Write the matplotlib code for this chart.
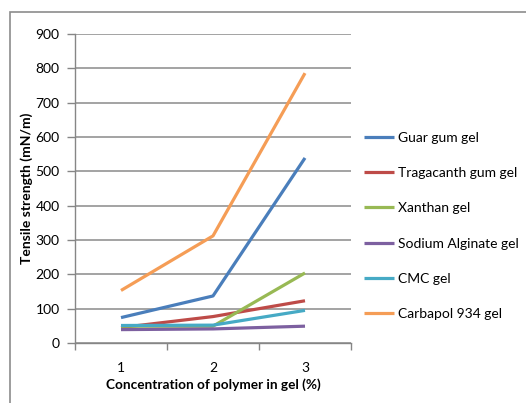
import matplotlib
matplotlib.use("Agg")
import matplotlib.pyplot as plt
from matplotlib.patches import Rectangle

# Tensile strength data
concentration = ["1", "2", "3"]
guar_gum = [74, 137, 539]
tragacanth_gum = [45, 77, 123]
xanthan = [49, 49, 204]
sodium_alginate = [39, 41, 49]
cmc = [51, 52, 95]
carbapol_934 = [153, 312, 786]

series_names = ["Guar gum gel", "Tragacanth gum gel", "Xanthan gel",
                "Sodium Alginate gel", "CMC gel", "Carbapol 934 gel"]
series_values = [guar_gum, tragacanth_gum, xanthan, sodium_alginate, cmc, carbapol_934]
colors = ["#4A7EBB", "#BE4B48", "#98B954", "#7D60A0", "#46AAC5", "#F59D56"]

plt.rcParams["font.family"] = ["Lato", "DejaVu Sans"]

fig = plt.figure(figsize=(5.26, 4.03), dpi=100)
ax = fig.add_axes([75 / 526, 1 - 343 / 403, 276 / 526, 309 / 403])

# outer frame (only top and left edges fall inside the image)
fig.patches.append(Rectangle((10 / 526, -0.1), 1.2, 1.1 - 12 / 403,
                             transform=fig.transFigure, fill=False,
                             edgecolor="#8C8C8C", linewidth=1.2))

x = list(range(len(concentration)))
for name, vals, c in zip(series_names, series_values, colors):
    ax.plot(x, vals, color=c, linewidth=2.3, label=name, solid_capstyle="butt")

ax.set_xlim(-0.5, 2.5)
ax.set_ylim(0, 900)
ax.set_yticks(range(0, 901, 100))
ax.set_xticks(x)
ax.set_xticklabels(concentration)
ax.set_xticks([-0.5, 0.5, 1.5, 2.5], minor=True)
ax.tick_params(axis="x", which="major", length=0, pad=14, labelsize=10)
ax.tick_params(axis="x", which="minor", length=5, color="#868686", width=1)
ax.tick_params(axis="y", length=6, color="#868686", width=1, labelsize=10, pad=5)
ax.grid(axis="y", color="#8A8A8A", linewidth=1.1)
ax.set_axisbelow(True)

for side in ["top", "right"]:
    ax.spines[side].set_visible(False)
for side in ["left", "bottom"]:
    ax.spines[side].set_color("#868686")
    ax.spines[side].set_linewidth(1)

ax.set_ylabel("Tensile strength (mN/m)", fontweight="bold", fontsize=10)
ax.set_xlabel("Concentration of polymer in gel (%)", fontweight="bold", fontsize=9.8)
ax.yaxis.set_label_coords(-0.174, 0.5)
ax.xaxis.set_label_coords(0.5, -0.136)
ax.yaxis.label.set_va("center")
ax.xaxis.label.set_va("center")

ax.legend(loc="upper left", bbox_to_anchor=(358 / 526, 1 - 126 / 403),
          bbox_transform=fig.transFigure, frameon=False, fontsize=10,
          handlelength=2.2, handletextpad=0.25, labelspacing=1.68,
          borderaxespad=0)

fig.savefig("out.png", dpi=100)
